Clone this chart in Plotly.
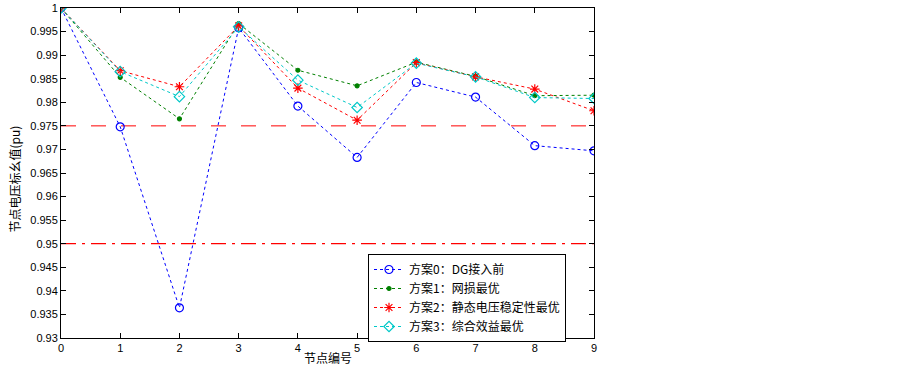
import plotly.graph_objects as go

nodes = [0, 1, 2, 3, 4, 5, 6, 7, 8, 9]
scheme0 = [1.0, 0.9748, 0.9364, 0.9958, 0.9792, 0.9683, 0.9842, 0.9811, 0.9708, 0.9697]
scheme1 = [1.0, 0.9853, 0.9765, 0.9967, 0.9868, 0.9835, 0.9885, 0.9855, 0.9814, 0.9815]
scheme2 = [1.0, 0.9867, 0.9833, 0.9962, 0.9830, 0.9762, 0.9884, 0.9854, 0.9828, 0.9782]
scheme3 = [1.0, 0.9865, 0.9812, 0.9960, 0.9847, 0.9789, 0.9883, 0.9854, 0.9810, 0.9808]
names = ["方案0：DG接入前", "方案1：网损最优", "方案2：静态电压稳定性最优", "方案3：综合效益最优"]
limit_upper = 0.975
limit_lower = 0.95
ytick_vals = [0.93, 0.935, 0.94, 0.945, 0.95, 0.955, 0.96, 0.965, 0.97, 0.975, 0.98, 0.985, 0.99, 0.995, 1.0]
ytick_text = ["0.93", "0.935", "0.94", "0.945", "0.95", "0.955", "0.96", "0.965", "0.97", "0.975", "0.98", "0.985", "0.99", "0.995", "1"]
x_title = "节点编号"
y_title = "节点电压标幺值(pu)"

fig = go.Figure()
fig.add_trace(go.Scatter(x=[0, 9], y=[limit_upper] * 2, mode="lines", showlegend=False,
                         line=dict(color="#ff0000", width=1, dash="longdash")))
fig.add_trace(go.Scatter(x=[0, 9], y=[limit_lower] * 2, mode="lines", showlegend=False,
                         line=dict(color="#ff0000", width=1.2, dash="longdashdot")))

styles = [
    (scheme0, "#0000ff", "circle-open", 8),
    (scheme1, "#008000", "circle", 4),
    (scheme2, "#ff0000", "asterisk-open", 8),
    (scheme3, "#00c8c8", "diamond-open", 8),
]
for (vals, col, sym, sz), nm in zip(styles, names):
    fig.add_trace(go.Scatter(x=nodes, y=vals, mode="lines+markers", name=nm,
                             line=dict(color=col, width=1, dash="dot"),
                             marker=dict(symbol=sym, size=sz, color=col, line=dict(color=col, width=1.2))))

axis_common = dict(showgrid=False, zeroline=False, showline=True, linecolor="black", linewidth=1,
                   mirror="ticks", ticks="inside", ticklen=5, tickcolor="black", automargin=False,
                   ticklabeloverflow="allow",
                   tickfont=dict(family="Liberation Sans, Arial", size=11, color="black"))
fig.update_xaxes(range=[0, 9], tickvals=nodes, ticktext=[str(n) for n in nodes], **axis_common)
fig.update_yaxes(range=[0.93, 1.0], tickvals=ytick_vals, ticktext=ytick_text, **axis_common)
fig.add_annotation(text=x_title, xref="paper", yref="paper", x=0.5, y=0, xanchor="center", yanchor="middle",
                   yshift=-19, showarrow=False, font=dict(family="Noto Sans CJK SC", size=12, color="black"))
fig.add_annotation(text=y_title, xref="paper", yref="paper", x=0, y=0.48, xanchor="center", yanchor="middle",
                   xshift=-46, textangle=-90, showarrow=False,
                   font=dict(family="Noto Sans CJK SC", size=12, color="black"))
fig.update_layout(
    width=903, height=369,
    margin=dict(l=61, r=309, t=8, b=31),
    paper_bgcolor="white", plot_bgcolor="white",
    legend=dict(x=0.576, y=0.2545, xanchor="left", yanchor="top",
                bgcolor="white", bordercolor="black", borderwidth=1,
                font=dict(family="Noto Sans CJK SC", size=12, color="black"),
                tracegroupgap=0, itemwidth=30),
    font=dict(family="Noto Sans CJK SC", color="black"),
)
fig.write_html("out.html", config={"displayModeBar": False},
               post_script="document.body.style.margin='0';document.body.style.overflow='hidden';")
